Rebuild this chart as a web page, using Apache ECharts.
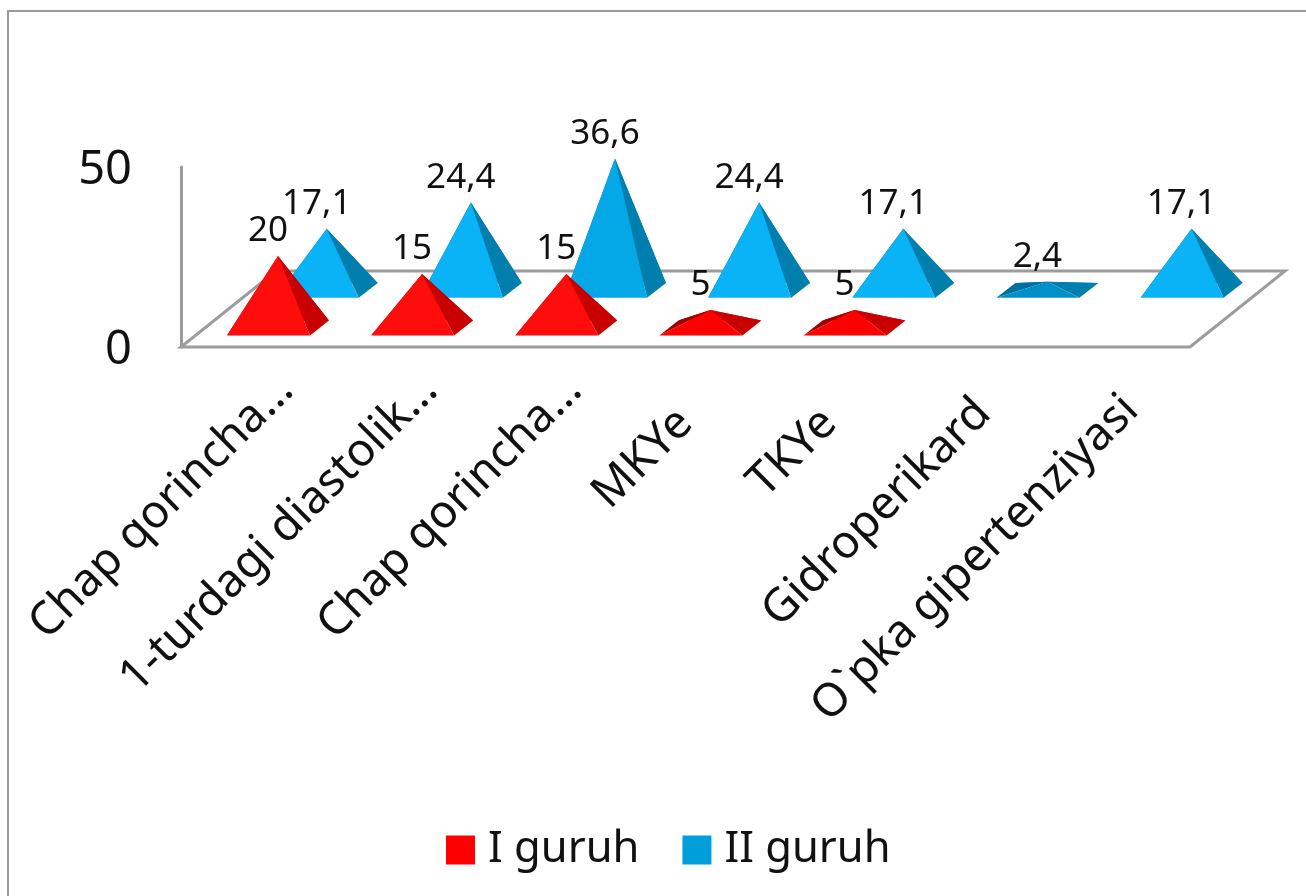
<!DOCTYPE html>
<html>
<head>
<meta charset="utf-8">
<style>html,body{margin:0;padding:0;background:#fff}#chart{width:1306px;height:896px}</style>
<script src="https://cdn.jsdelivr.net/npm/echarts@6/dist/echarts.min.js"></script>
</head>
<body>
<div id="chart"></div>
<script>
const categories = ['Chap qorincha…', '1-turdagi diastolik…', 'Chap qorincha…', 'MKYe', 'TKYe', 'Gidroperikard', 'O`pka gipertenziyasi'];
const guruh1 = [20, 15, 15, 5, 5, null, null];
const guruh2 = [17.1, 24.4, 36.6, 24.4, 17.1, 2.4, 17.1];
const valueTicks = [0, 50];

const FONT = '"Noto Sans", "Open Sans", sans-serif';

// Oblique projection of the floor: depth runs up and to the right.
const FLOOR_DX = 95, FLOOR_DY = 76;
const BASE_HALF = 0.288;          // half of a pyramid base, as a share of the category band
const BASE_DX = 9.5, BASE_DY = 7.4;
const ROW_OFFSET = { front: [0.262, 0.25], back: [0.775, 0.745] };

// How far each rotated category label sits back from its anchor, along its own direction.
const LABEL_BACKOFF = [0, 0, 0, 47, 47, 33, 28];

const shades = {
  front: { face: '#ff0c0c', low: '#ff0000', right: '#c80000', left: '#a00000', back: '#e00000' },
  back:  { face: '#0ab2f6', low: '#0090c8', tall: '#05a8e6', right: '#007fae', left: '#00709c', back: '#0088ba' }
};

function pyramid(row) {
  return function (params, api) {
    const v = api.value(1);
    if (v == null || isNaN(v)) return;
    const tip = api.coord([api.value(0), v]);
    const foot = api.coord([api.value(0), 0]);
    const hw = api.size([1, 0])[0] * BASE_HALF;
    const off = ROW_OFFSET[row];
    const cx = foot[0] + FLOOR_DX * off[0];
    const cy = foot[1] - FLOOR_DY * off[1];
    const apex = [cx, cy - (foot[1] - tip[1])];
    const fl = [cx - hw - BASE_DX, cy + BASE_DY], fr = [cx + hw - BASE_DX, cy + BASE_DY];
    const br = [cx + hw + BASE_DX, cy - BASE_DY], bl = [cx - hw + BASE_DX, cy - BASE_DY];
    const c = shades[row];
    const poly = (pts, fill) => ({ type: 'polygon', shape: { points: pts }, style: { fill: fill } });
    // The sunlit face reads darker on very low pyramids and slightly deeper on the tallest one.
    const faceFill = row === 'back'
      ? (v < 4 ? c.low : (v > 30 ? c.tall : c.face))
      : (v < 6 ? c.low : c.face);
    return {
      type: 'group',
      children: [
        poly([bl, br, apex], c.back),
        poly([fl, bl, apex], c.left),
        poly([fr, br, apex], c.right),
        poly([fl, fr, apex], faceFill),
        {
          type: 'text',
          z2: 10,
          style: {
            x: apex[0] - 10, y: apex[1] - 25,
            text: String(v).replace('.', ','),
            font: '35px ' + FONT,
            fill: '#111',
            align: 'center', verticalAlign: 'middle'
          }
        }
      ]
    };
  };
}

function floor(params, api) {
  const a = api.coord([0, 0]);
  const size = api.size([1, 0])[0];
  const x0 = a[0] - size / 2, y0 = a[1];
  const x1 = x0 + size * categories.length;
  return {
    type: 'polygon',
    shape: { points: [[x0, y0], [x1, y0], [x1 + FLOOR_DX, y0 - FLOOR_DY], [x0 + FLOOR_DX, y0 - FLOOR_DY]] },
    style: { fill: 'none', stroke: '#9c9c9c', lineWidth: 3 }
  };
}

const toRows = arr => arr.map((v, i) => [i, v]);
const labelItems = categories.map((name, i) => ({
  value: name,
  textStyle: { padding: [0, LABEL_BACKOFF[i], 0, 0] }
}));

const chart = echarts.init(document.getElementById('chart'));
chart.setOption({
  animation: false,
  backgroundColor: '#fff',
  textStyle: { fontFamily: FONT },
  graphic: [{
    type: 'rect',
    shape: { x: 8, y: 11, width: 1320, height: 900 },
    style: { fill: 'none', stroke: '#9a9a9a', lineWidth: 2 },
    silent: true
  }],
  legend: {
    data: ['I guruh', 'II guruh'],
    left: 441, top: 823,
    icon: 'rect',
    itemWidth: 29, itemHeight: 29, itemGap: 43,
    textStyle: { fontSize: 43.5, color: '#111', fontFamily: FONT, padding: [0, 0, 0, 8] }
  },
  grid: [
    { left: 181, right: 116, top: 167, bottom: 549 },
    // Carries the axis text only, set slightly off the drawn frame.
    { left: 214, right: 83, top: 171, bottom: 545 }
  ],
  xAxis: [
    { type: 'category', gridIndex: 0, data: categories,
      axisLine: { show: false }, axisTick: { show: false }, axisLabel: { show: false } },
    { type: 'category', gridIndex: 1, data: labelItems,
      axisLine: { show: false }, axisTick: { show: false },
      axisLabel: { interval: 0, rotate: 45, fontSize: 46, color: '#111', margin: 32, fontFamily: FONT } }
  ],
  yAxis: [
    { type: 'value', gridIndex: 0, min: valueTicks[0], max: valueTicks[1], interval: 50,
      splitLine: { show: false },
      axisLine: { show: true, lineStyle: { color: '#9c9c9c', width: 3 } },
      axisTick: { show: false },
      axisLabel: { show: false } },
    { type: 'value', gridIndex: 1, min: valueTicks[0], max: valueTicks[1], interval: 50,
      splitLine: { show: false },
      axisLine: { show: false }, axisTick: { show: false },
      axisLabel: { fontSize: 47, color: '#111', margin: 82, fontFamily: FONT } }
  ],
  series: [
    { type: 'custom', silent: true, xAxisIndex: 0, yAxisIndex: 0, z: 1, renderItem: floor, data: [[0, 0]] },
    { name: 'II guruh', type: 'custom', xAxisIndex: 0, yAxisIndex: 0, z: 2, itemStyle: { color: '#009fdb' },
      renderItem: pyramid('back'), data: toRows(guruh2), encode: { x: 0, y: 1 } },
    { name: 'I guruh', type: 'custom', xAxisIndex: 0, yAxisIndex: 0, z: 3, itemStyle: { color: '#ff0000' },
      renderItem: pyramid('front'), data: toRows(guruh1), encode: { x: 0, y: 1 } },
    { type: 'custom', silent: true, xAxisIndex: 1, yAxisIndex: 1, renderItem: () => null, data: [[0, 0]] }
  ]
});
</script>
</body>
</html>
